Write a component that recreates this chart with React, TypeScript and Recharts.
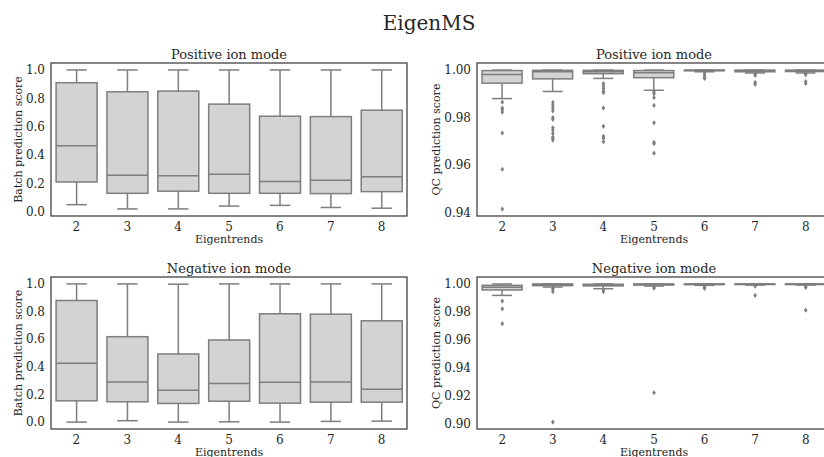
import React from 'react';
import { ComposedChart, Bar, Line, XAxis, YAxis } from 'recharts';

const categories = ['2', '3', '4', '5', '6', '7', '8'];

// Positive ion mode, batch prediction score
const posBatchMin = [0.05, 0.02, 0.02, 0.04, 0.045, 0.03, 0.025];
const posBatchQ1 = [0.21, 0.13, 0.145, 0.13, 0.13, 0.128, 0.142];
const posBatchMed = [0.466, 0.258, 0.253, 0.265, 0.213, 0.222, 0.246];
const posBatchQ3 = [0.91, 0.846, 0.851, 0.759, 0.674, 0.671, 0.716];
const posBatchMax = [1, 1, 1, 1, 1, 1, 1];
const posBatchOut: number[][] = [[], [], [], [], [], [], []];

// Negative ion mode, batch prediction score
const negBatchMin = [0.0, 0.01, 0.0, 0.002, 0.0, 0.005, 0.007];
const negBatchQ1 = [0.154, 0.147, 0.135, 0.151, 0.137, 0.144, 0.144];
const negBatchMed = [0.425, 0.291, 0.231, 0.279, 0.288, 0.291, 0.238];
const negBatchQ3 = [0.88, 0.618, 0.493, 0.594, 0.784, 0.781, 0.733];
const negBatchMax = [1, 1, 0.998, 1, 1, 1, 1];
const negBatchOut: number[][] = [[], [], [], [], [], [], []];

// Positive ion mode, QC prediction score
const posQcMin = [0.988, 0.991, 0.9965, 0.9915, 0.9993, 0.9988, 0.9988];
const posQcQ1 = [0.9945, 0.9963, 0.9985, 0.9968, 0.9997, 0.9993, 0.9994];
const posQcMed = [0.9982, 0.9993, 0.9993, 0.9989, 0.99995, 0.9998, 0.9998];
const posQcQ3 = [0.9998, 0.9999, 0.9999, 0.9998, 1.0, 0.99995, 0.99995];
const posQcMax = [1, 1, 1, 1, 1, 1, 1];
const posQcOut = [
  [0.9865, 0.984, 0.9834, 0.9823, 0.9735, 0.9582, 0.9414],
  [0.9864, 0.9852, 0.984, 0.9828, 0.98, 0.9792, 0.9757, 0.9747, 0.9733, 0.9718, 0.9712, 0.9705],
  [0.9943, 0.9932, 0.9922, 0.9911, 0.9905, 0.984, 0.9763, 0.9721, 0.9712, 0.9698],
  [0.9908, 0.99, 0.9884, 0.9851, 0.9778, 0.9696, 0.969, 0.965],
  [0.9988, 0.9978, 0.997, 0.9965],
  [0.9984, 0.9978, 0.9948, 0.994],
  [0.9986, 0.998, 0.9952, 0.9944],
];

// Negative ion mode, QC prediction score
const negQcMin = [0.9918, 0.9978, 0.9966, 0.9985, 0.999, 0.9992, 0.9992];
const negQcQ1 = [0.9957, 0.9988, 0.9986, 0.9992, 0.9995, 0.9996, 0.9996];
const negQcMed = [0.9976, 0.9996, 0.9993, 0.9998, 0.9999, 0.9999, 0.9999];
const negQcQ3 = [0.999, 1.0, 0.9998, 1.0, 1.0, 1.0, 1.0];
const negQcMax = [1, 1, 1, 1, 1, 1, 1];
const negQcOut = [
  [0.9877, 0.9822, 0.9715],
  [0.9972, 0.9964, 0.9945, 0.901],
  [0.996, 0.9945],
  [0.9978, 0.997, 0.922],
  [0.9985, 0.9975, 0.9968],
  [0.9985, 0.9918],
  [0.9985, 0.9975, 0.9812],
];

const batchTicks = [0, 0.2, 0.4, 0.6, 0.8, 1.0];
const posQcTicks = [0.94, 0.96, 0.98, 1.0];
const negQcTicks = [0.9, 0.92, 0.94, 0.96, 0.98, 1.0];

const FONT = '"DejaVu Serif", serif';
const TEXT = '#262626';
const BOX_FILL = '#d3d3d3';
const BOX_LINE = '#7e7e7e';
const SPINE = '#3c3c3c';

const buildRows = (
  lo: number[], q1: number[], med: number[], q3: number[], hi: number[], out: number[][]
) =>
  categories.map((cat, i) => {
    const row: any = { cat, range: [lo[i], hi[i]], lo: lo[i], q1: q1[i], med: med[i], q3: q3[i], hi: hi[i] };
    out[i].forEach((v, j) => {
      row['o' + j] = v;
    });
    return row;
  });

const BoxShape = (props: any) => {
  const { x, y, width, height, payload } = props;
  if (!payload || height == null) return <g />;
  const { lo, q1, med, q3, hi } = payload;
  const toPx = (v: number) => y + ((hi - v) / (hi - lo)) * height;
  const cx = x + width / 2;
  const cap = width / 4;
  const yQ1 = toPx(q1);
  const yQ3 = toPx(q3);
  const yMed = toPx(med);
  return (
    <g>
      <line x1={cx} x2={cx} y1={y} y2={yQ3} stroke={BOX_LINE} strokeWidth={1.5} />
      <line x1={cx} x2={cx} y1={yQ1} y2={y + height} stroke={BOX_LINE} strokeWidth={1.5} />
      <line x1={cx - cap} x2={cx + cap} y1={y} y2={y} stroke={BOX_LINE} strokeWidth={1.5} />
      <line x1={cx - cap} x2={cx + cap} y1={y + height} y2={y + height} stroke={BOX_LINE} strokeWidth={1.5} />
      <rect x={x} y={yQ3} width={width} height={Math.max(yQ1 - yQ3, 0.5)} fill={BOX_FILL} stroke={BOX_LINE} strokeWidth={1.5} />
      <line x1={x} x2={x + width} y1={yMed} y2={yMed} stroke={BOX_LINE} strokeWidth={1.5} />
    </g>
  );
};

const Diamond = (props: any) => {
  const { cx, cy, value, index } = props;
  if (cy == null || value == null || Number.isNaN(cy)) return <g key={'d' + index} />;
  return (
    <polygon
      key={'d' + index}
      points={`${cx},${cy - 2.6} ${cx + 1.8},${cy} ${cx},${cy + 2.6} ${cx - 1.8},${cy}`}
      fill={BOX_LINE}
    />
  );
};

interface PanelProps {
  title: string;
  yLabel: string;
  rows: any[];
  outCount: number;
  domain: [number, number];
  ticks: number[];
  digits: number;
  left: number;
  top: number;
  width: number;
  height: number;
  marginTop: number;
  marginRight: number;
  yAxisWidth: number;
  yLabelOffset: number;
}

const MARGIN_BOTTOM = 14;
const X_AXIS_H = 30;

const Panel: React.FC<PanelProps> = ({
  title, yLabel, rows, outCount, domain, ticks, digits,
  left, top, width, height, marginTop, marginRight, yAxisWidth, yLabelOffset,
}) => {
  const tickStyle = { fontSize: 12, fill: TEXT, fontFamily: FONT };
  // plot frame (matplotlib spines) and title
  const px = yAxisWidth;
  const py = marginTop;
  const pw = width - marginRight - yAxisWidth;
  const ph = height - marginTop - MARGIN_BOTTOM - X_AXIS_H;
  return (
    <div style={{ position: 'absolute', left, top, width, height }}>
      <ComposedChart
        width={width}
        height={height}
        data={rows}
        margin={{ top: marginTop, right: marginRight, left: 0, bottom: MARGIN_BOTTOM }}
        barCategoryGap="10%"
      >
        <XAxis
          dataKey="cat"
          height={X_AXIS_H}
          tickLine={false}
          tickSize={0}
          tickMargin={6}
          tick={tickStyle}
          axisLine={false}
          label={{ value: 'Eigentrends', position: 'insideBottom', offset: 3, style: { fontSize: 11, fill: TEXT, fontFamily: FONT } }}
        />
        <YAxis
          type="number"
          width={yAxisWidth}
          domain={domain}
          allowDataOverflow
          ticks={ticks}
          tickFormatter={(v: number) => v.toFixed(digits)}
          tickLine={false}
          tickSize={0}
          tickMargin={6}
          tick={tickStyle}
          axisLine={false}
          label={{
            value: yLabel,
            angle: -90,
            position: 'insideLeft',
            offset: yLabelOffset,
            style: { textAnchor: 'middle', fontSize: 11, fill: TEXT, fontFamily: FONT },
          }}
        />
        <Bar dataKey="range" shape={<BoxShape />} isAnimationActive={false} />
        {Array.from({ length: outCount }).map((_, j) => (
          <Line
            key={'o' + j}
            dataKey={'o' + j}
            stroke="none"
            dot={Diamond}
            activeDot={false}
            legendType="none"
            isAnimationActive={false}
          />
        ))}
      </ComposedChart>
      <svg width={width} height={height} style={{ position: 'absolute', left: 0, top: 0, pointerEvents: 'none' }}>
        <rect x={px} y={py} width={pw} height={ph} fill="none" stroke={SPINE} strokeWidth={1.25} />
        <text x={px + pw / 2} y={py - 4} textAnchor="middle" fontSize={13} fill={TEXT} fontFamily={FONT}>
          {title}
        </text>
      </svg>
    </div>
  );
};

const maxLen = (out: number[][]) => Math.max(0, ...out.map((o) => o.length));

export default function App() {
  return (
    <div style={{ position: 'absolute', left: 0, top: 0, width: 824, height: 457, overflow: 'hidden', background: '#fff' }}>
      <svg width={824} height={40} style={{ position: 'absolute', left: 0, top: 0 }}>
        <text x={429} y={29.5} textAnchor="middle" fontSize={20} fill={TEXT} fontFamily={FONT}>
          EigenMS
        </text>
      </svg>
      <Panel
        title="Positive ion mode"
        yLabel="Batch prediction score"
        rows={buildRows(posBatchMin, posBatchQ1, posBatchMed, posBatchQ3, posBatchMax, posBatchOut)}
        outCount={maxLen(posBatchOut)}
        domain={[-0.03, 1.049]}
        ticks={batchTicks}
        digits={1}
        left={0}
        top={40}
        width={420}
        height={220}
        marginTop={23}
        marginRight={13}
        yAxisWidth={51}
        yLabelOffset={18}
      />
      <Panel
        title="Positive ion mode"
        yLabel="QC prediction score"
        rows={buildRows(posQcMin, posQcQ1, posQcMed, posQcQ3, posQcMax, posQcOut)}
        outCount={maxLen(posQcOut)}
        domain={[0.9385, 1.003]}
        ticks={posQcTicks}
        digits={2}
        left={412}
        top={40}
        width={419}
        height={220}
        marginTop={23}
        marginRight={0}
        yAxisWidth={65}
        yLabelOffset={24}
      />
      <Panel
        title="Negative ion mode"
        yLabel="Batch prediction score"
        rows={buildRows(negBatchMin, negBatchQ1, negBatchMed, negBatchQ3, negBatchMax, negBatchOut)}
        outCount={maxLen(negBatchOut)}
        domain={[-0.05, 1.05]}
        ticks={batchTicks}
        digits={1}
        left={0}
        top={250}
        width={420}
        height={223}
        marginTop={27}
        marginRight={13}
        yAxisWidth={51}
        yLabelOffset={18}
      />
      <Panel
        title="Negative ion mode"
        yLabel="QC prediction score"
        rows={buildRows(negQcMin, negQcQ1, negQcMed, negQcQ3, negQcMax, negQcOut)}
        outCount={maxLen(negQcOut)}
        domain={[0.896, 1.005]}
        ticks={negQcTicks}
        digits={2}
        left={412}
        top={250}
        width={419}
        height={223}
        marginTop={27}
        marginRight={0}
        yAxisWidth={65}
        yLabelOffset={24}
      />
    </div>
  );
}
